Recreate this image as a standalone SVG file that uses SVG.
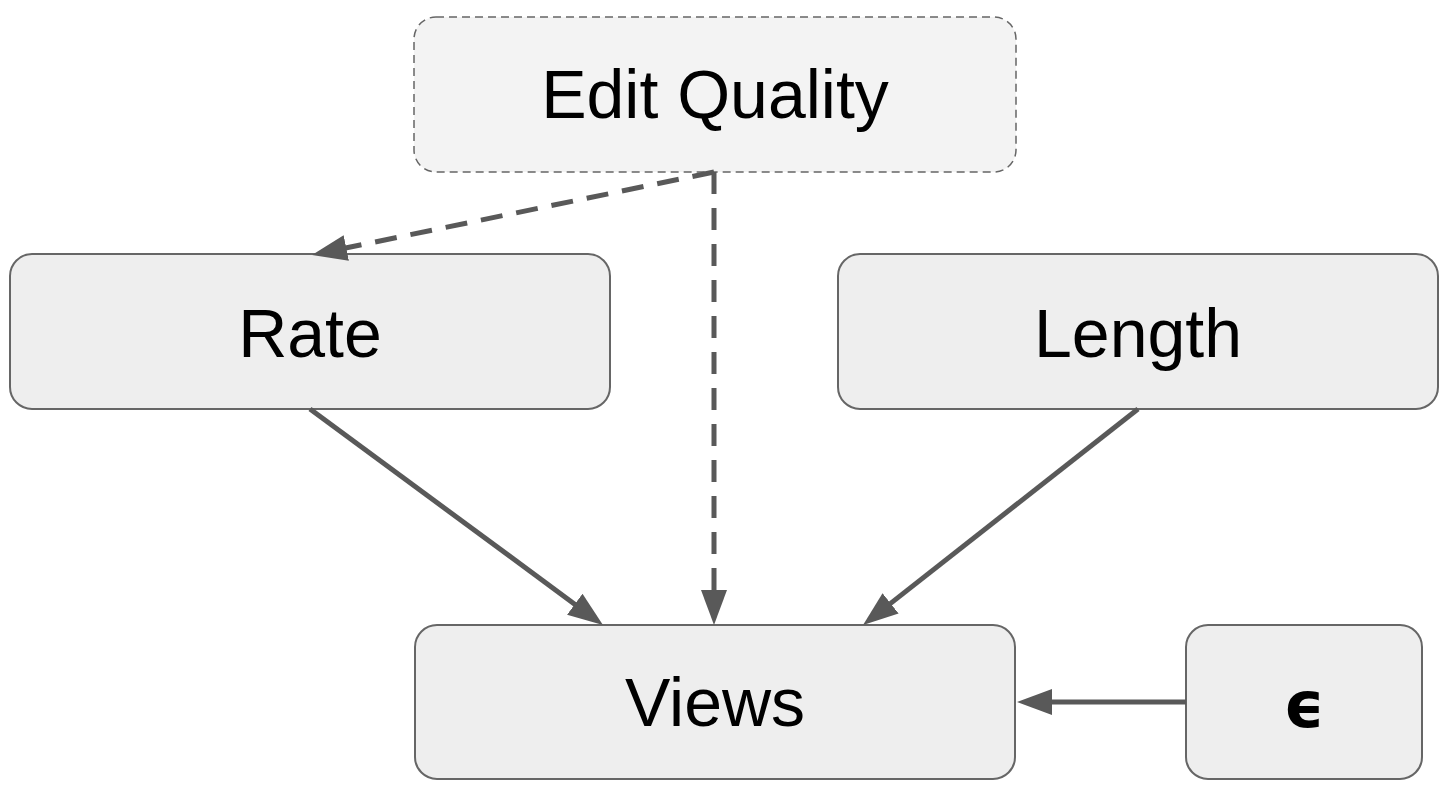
<svg xmlns="http://www.w3.org/2000/svg" width="1450" height="789" viewBox="0 0 1450 789">
<style>
.box{fill:#eeeeee;stroke:#666666;stroke-width:2}
.dbox{fill:#f3f3f3;stroke:#666666;stroke-width:1.5;stroke-dasharray:8 5}
.lbl{font-family:"Liberation Sans",Arial,sans-serif;font-size:68px;fill:#000;text-anchor:middle}
.eps{font-family:"DejaVu Sans","Liberation Sans",sans-serif;font-size:64px;font-weight:bold;fill:#000;text-anchor:middle}
.c{stroke:#595959;stroke-width:5;fill:none;marker-end:url(#ah)}
.d{stroke-dasharray:22 14}
</style>
<defs>
<marker id="ah" markerUnits="userSpaceOnUse" markerWidth="40" markerHeight="30" refX="2" refY="13" orient="auto">
<path d="M0,0 L35,13 L0,26 z" fill="#595959"/>
</marker>
</defs>
<rect x="0" y="0" width="1450" height="789" fill="#ffffff"/>
<g id="edit-quality">
<rect class="dbox" x="414" y="17" width="602" height="155" rx="22"/>
<text class="lbl" x="715" y="118">Edit Quality</text>
</g>
<g id="rate">
<rect class="box" x="10" y="254" width="600" height="155" rx="22"/>
<text class="lbl" x="310" y="357">Rate</text>
</g>
<g id="length">
<rect class="box" x="838" y="254" width="600" height="155" rx="22"/>
<text class="lbl" x="1138" y="357">Length</text>
</g>
<g id="views">
<rect class="box" x="415" y="625" width="600" height="154" rx="22"/>
<text class="lbl" x="715" y="726">Views</text>
</g>
<g id="epsilon">
<rect class="box" x="1186" y="625" width="236" height="154" rx="22"/>
<text class="eps" x="1304" y="727">ϵ</text>
</g>
<g id="connectors">
<line class="c d" x1="714" y1="172" x2="344.3" y2="248.3"/>
<line class="c d" x1="714" y1="172" x2="714" y2="592"/>
<line class="c" x1="310" y1="409" x2="576.4" y2="605.4"/>
<line class="c" x1="1138" y1="409" x2="889" y2="604.6"/>
<line class="c" x1="1186" y1="702" x2="1050" y2="702"/>
</g>
</svg>
